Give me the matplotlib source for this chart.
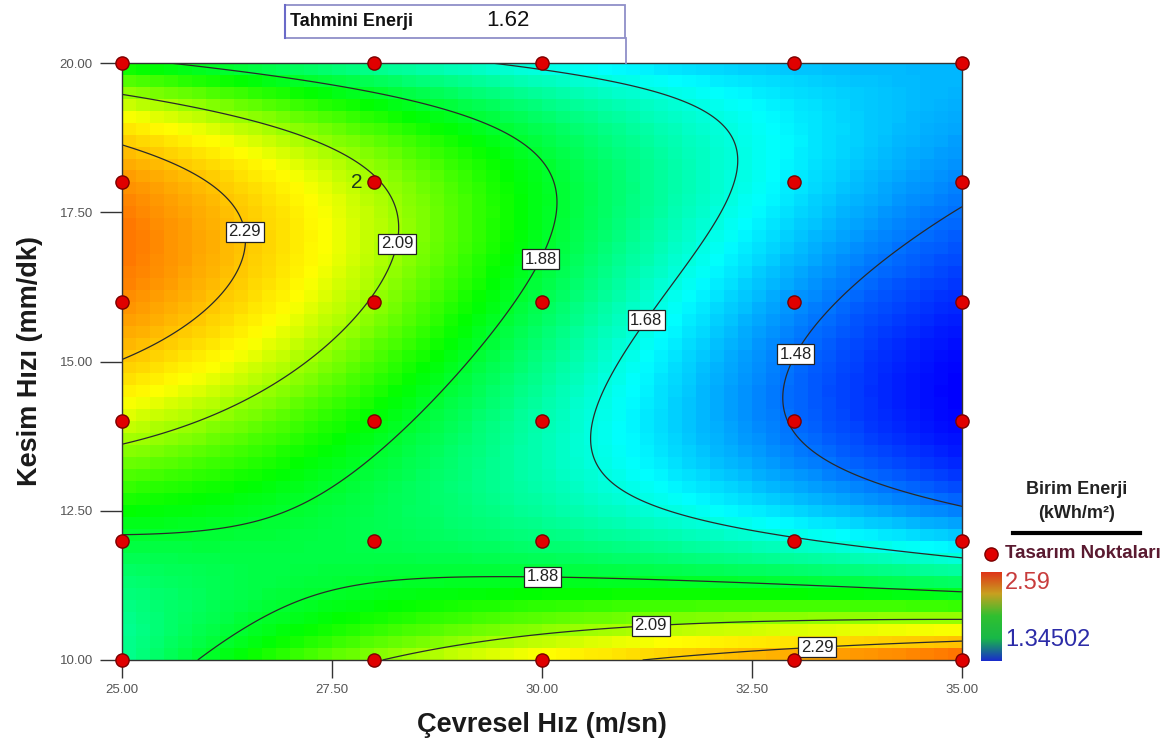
import numpy as np
import matplotlib
matplotlib.use("Agg")
import matplotlib.pyplot as plt
from matplotlib import font_manager
from matplotlib.colors import LinearSegmentedColormap
from matplotlib.patches import Rectangle
from matplotlib.lines import Line2D

# ---- response values (Birim Enerji, kWh/m2) on a grid of the two factors ----
speed_levels = [25.0, 27.5, 30.0, 32.5, 35.0]          # Çevresel Hız (m/sn)
feed_levels = [10, 11, 12, 13, 14, 15, 16, 17, 18, 19, 20]  # Kesim Hızı (mm/dk)
energy_at_25 = [1.76, 1.80, 1.86, 2.00, 2.14, 2.28, 2.40, 2.43, 2.37, 2.21, 1.91]
energy_at_27_5 = [2.05, 1.90, 1.84, 1.89, 1.97, 2.06, 2.14, 2.19, 2.16, 2.01, 1.80]
energy_at_30 = [2.20, 1.96, 1.80, 1.74, 1.73, 1.76, 1.83, 1.90, 1.90, 1.80, 1.63]
energy_at_32_5 = [2.37, 1.97, 1.70, 1.57, 1.52, 1.53, 1.57, 1.62, 1.67, 1.66, 1.60]
energy_at_35 = [2.48, 1.96, 1.60, 1.39, 1.36, 1.36, 1.39, 1.44, 1.50, 1.54, 1.56]

# ---- design points ----
design_speed = [25, 25, 25, 25, 25, 25,
                28, 28, 28, 28, 28, 28,
                30, 30, 30, 30, 30,
                33, 33, 33, 33, 33, 33,
                35, 35, 35, 35, 35, 35]
design_feed = [10, 12, 14, 16, 18, 20,
               10, 12, 14, 16, 18, 20,
               10, 12, 14, 16, 20,
               10, 12, 14, 16, 18, 20,
               10, 12, 14, 16, 18, 20]
replicate_point = (28, 18)
replicate_count = "2"

contour_levels = [1.48, 1.68, 1.88, 2.09, 2.29]
energy_min = 1.34502
energy_max = 2.59

x_ticks = [25.0, 27.5, 30.0, 32.5, 35.0]
y_ticks = [10.0, 12.5, 15.0, 17.5, 20.0]

flag_speed, flag_feed, flag_value = 31.0, 20.0, 1.62


def pick_font(*names):
    for n in names:
        try:
            font_manager.findfont(font_manager.FontProperties(family=n),
                                  fallback_to_default=False)
            return n
        except Exception:
            continue
    return "DejaVu Sans"


regular = pick_font("Liberation Sans", "DejaVu Sans")

# ---- smooth response surface: least-squares polynomial through the grid ----
S, F = np.meshgrid(speed_levels, feed_levels, indexing="ij")
E = np.array([energy_at_25, energy_at_27_5, energy_at_30,
              energy_at_32_5, energy_at_35])
terms = [(i, j) for i in range(4) for j in range(5)]


def basis(s, f):
    u = (np.asarray(s) - 30.0) / 5.0
    v = (np.asarray(f) - 15.0) / 5.0
    return np.stack([u ** i * v ** j for i, j in terms], axis=-1)


coef, *_ = np.linalg.lstsq(basis(S.ravel(), F.ravel()), E.ravel(), rcond=None)


def surface(s, f):
    return basis(s, f) @ coef


cmap = LinearSegmentedColormap.from_list(
    "de", [(0.0, "#0000ff"), (0.24, "#00ffff"), (0.47, "#00ff00"),
           (0.68, "#ffff00"), (0.84, "#ff8c00"), (1.0, "#ff0000")])

W, H, DPI = 1174, 746, 100
fig = plt.figure(figsize=(W / DPI, H / DPI), dpi=DPI)
fig.patch.set_facecolor("white")


def fx(px):
    return px / W


def fy(py):
    return 1 - py / H


ax = fig.add_axes([fx(122), fy(660), fx(962) - fx(122), fy(63) - fy(660)])

# blocky colour field
nx, ny = 60, 50
xe = np.linspace(25, 35, nx + 1)
ye = np.linspace(10, 20, ny + 1)
xc = 0.5 * (xe[:-1] + xe[1:])
yc = 0.5 * (ye[:-1] + ye[1:])
XC, YC = np.meshgrid(xc, yc)
ax.pcolormesh(xe, ye, surface(XC, YC), cmap=cmap, vmin=energy_min,
              vmax=energy_max, shading="flat", rasterized=True)

# contour lines
xf = np.linspace(25, 35, 400)
yf = np.linspace(10, 20, 400)
XF, YF = np.meshgrid(xf, yf)
cs = ax.contour(XF, YF, surface(XF, YF), levels=contour_levels,
                colors="#2a2a2a", linewidths=0.9)
label_spots = [(26.56, 17.2), (28.35, 16.95), (30.05, 16.67), (31.29, 15.64),
               (32.93, 15.19), (30.01, 11.5), (31.29, 10.72), (33.27, 10.3)]
labels = ax.clabel(cs, fmt="%.2f", inline=False, manual=label_spots,
                   fontsize=12)
for t in labels:
    t.set_rotation(0)
    t.set_family(regular)
    t.set_color("#222222")
    t.set_bbox(dict(boxstyle="square,pad=0.15", fc="white", ec="#222222",
                    lw=0.9))
    t.set_zorder(6)

# design points
ax.plot(design_speed, design_feed, "o", ms=9.5, mfc="#e00000", mec="#7a0000",
        mew=1.0, clip_on=False, zorder=8)
ax.annotate(replicate_count, xy=replicate_point, xytext=(-8, 0),
            textcoords="offset points", ha="right", va="center",
            fontsize=15, family=regular, color="#1d3d1d", zorder=8)

ax.set_xlim(25, 35)
ax.set_ylim(10, 20)
ax.set_xticks(x_ticks)
ax.set_yticks(y_ticks)
ax.set_xticklabels([f"{v:.2f}" for v in x_ticks])
ax.set_yticklabels([f"{v:.2f}" for v in y_ticks])
ax.tick_params(axis="y", direction="out", length=16, width=1.0,
               color="#333333", pad=5, labelsize=9.5,
               labelcolor="#555555")
ax.tick_params(axis="x", direction="out", length=13, width=1.0,
               color="#333333", pad=4, labelsize=9.5,
               labelcolor="#555555")
for lab in ax.get_xticklabels() + ax.get_yticklabels():
    lab.set_family(regular)
for sp in ax.spines.values():
    sp.set_color("#333333")
    sp.set_linewidth(1.0)

ax.set_xlabel("Çevresel Hız (m/sn)", fontsize=19.5, fontweight="bold",
              family=regular, color="#1a1a1a", labelpad=12)
ax.set_ylabel("Kesim Hızı (mm/dk)", fontsize=19.5, fontweight="bold",
              family=regular, color="#1a1a1a", labelpad=12)

# prediction flag
fig.add_artist(Rectangle((fx(285), fy(38)), fx(625) - fx(285),
                         fy(5) - fy(38), transform=fig.transFigure,
                         fill=True, fc="white", ec="#8f8fc8", lw=1.3))
fig.add_artist(Line2D([fx(285), fx(285)], [fy(38), fy(5)],
                      transform=fig.transFigure, color="#6a6ac8", lw=1.5))
flag_px = ax.transData.transform((flag_speed, flag_feed))
flag_fig = fig.transFigure.inverted().transform(flag_px)
fig.add_artist(Line2D([flag_fig[0], flag_fig[0]], [fy(38), flag_fig[1]],
                      transform=fig.transFigure, color="#8f8fc8", lw=1.3))
fig.text(fx(290), fy(21), "Tahmini Enerji", fontsize=13, fontweight="bold",
         family=regular, color="#111111", va="center", ha="left")
fig.text(fx(486), fy(21), f"{flag_value:.2f}", fontsize=16,
         family=regular, color="#111111", va="center", ha="left")

# legend block on the right
fig.text(fx(1077), fy(490), "Birim Enerji", fontsize=13, fontweight="bold",
         family=regular, color="#222222", ha="center", va="center")
fig.text(fx(1077), fy(514), "(kWh/m²)", fontsize=13,
         fontweight="bold", family=regular, color="#222222", ha="center",
         va="center")
fig.add_artist(Line2D([fx(1013), fx(1140)], [fy(533), fy(533)],
                      transform=fig.transFigure, color="black", lw=3))
fig.add_artist(Line2D([fx(991)], [fy(554)], transform=fig.transFigure,
                      marker="o", ms=9.5, mfc="#e00000", mec="#7a0000",
                      mew=1.0, ls="none"))
fig.text(fx(1005), fy(554), "Tasarım Noktaları", fontsize=13.5,
         fontweight="bold", family=regular, color="#5a1a30", ha="left",
         va="center")
cax = fig.add_axes([fx(981), fy(661), fx(1001) - fx(981), fy(572) - fy(661)])
bar_cmap = LinearSegmentedColormap.from_list(
    "bar", ["#1a2ccc", "#18b848", "#30c030", "#c8a020", "#e03018"])
cax.imshow(np.linspace(1, 0, 200)[:, None], aspect="auto", cmap=bar_cmap,
           extent=(0, 1, 0, 1))
cax.set_axis_off()
fig.text(fx(1005), fy(583), f"{energy_max:.2f}", fontsize=17, family=regular,
         color="#c83c3c", ha="left", va="center")
fig.text(fx(1005), fy(640), f"{energy_min:.5f}", fontsize=17, family=regular,
         color="#2c2ca8", ha="left", va="center")

fig.savefig("out.png", dpi=DPI, facecolor="white")
